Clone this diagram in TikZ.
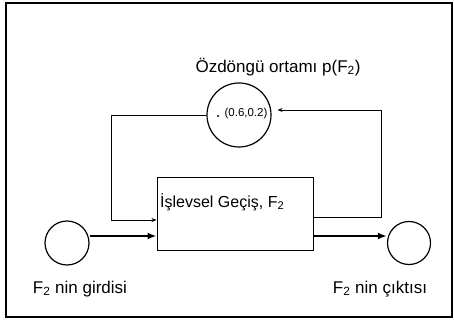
\documentclass[tikz,border=0pt]{standalone}
\usepackage{fontspec}
\setmainfont{Liberation Sans}
\usetikzlibrary{arrows.meta}
\begin{document}
\begin{tikzpicture}[x=1pt,y=-1pt,
  ring/.style={draw, circle, line width=1.2pt, inner sep=0pt},
  lbl/.style={font=\fontsize{17}{20}\selectfont, inner sep=0pt},
  thick arrow/.style={draw, line width=2pt, -{Latex[length=9pt,width=7pt]}},
  fb arrow/.style={draw, line width=0.8pt, -{Stealth[length=5pt,width=4pt]}}]
\useasboundingbox (0,0) rectangle (454,320);
\draw[line width=2pt] (6,3) rectangle (452,317);
% nodes
\node[ring, minimum size=64pt] (env) at (239,115) {};
\node[lbl] (title) at (278,67) {Özdöngü ortamı p(F\textsubscript{2})};
\fill (218,116) circle (1.2pt);
\node[font=\fontsize{11.5}{13}\selectfont, inner sep=0pt] (val) at (246,114) {(0.6,0.2)};
\node[draw, line width=1pt, minimum width=156pt, minimum height=72pt, inner sep=0pt] (box) at (235,214) {};
\node[anchor=base west, font=\fontsize{16}{19}\selectfont, inner sep=0pt] (boxtxt) at (160,207) {İşlevsel Geçiş, F\textsubscript{2}};
\node[ring, minimum size=44pt] (in) at (67,243) {};
\node[ring, minimum size=43pt] (out) at (409,243) {};
\node[lbl] (inlbl) at (80,289) {F\textsubscript{2} nin girdisi};
\node[lbl] (outlbl) at (380,289) {F\textsubscript{2} nin çıktısı};
\coordinate (bendL) at (111,220);
\coordinate (bendR) at (381,110);
\coordinate (inA) at ([yshift=7pt]in.east);
\coordinate (outA) at ([yshift=7pt]out.west);
% connectors
\draw[thick arrow] (inA) -- (inA -| box.west);
\draw[thick arrow] (outA -| box.east) -- (outA);
\draw[fb arrow] (env.west) -| (bendL) -- (box.west |- bendL);
\draw[fb arrow] ([yshift=-3pt]box.east) -| (bendR) -- ([yshift=5pt,xshift=6pt]env.east);
\end{tikzpicture}
\end{document}
